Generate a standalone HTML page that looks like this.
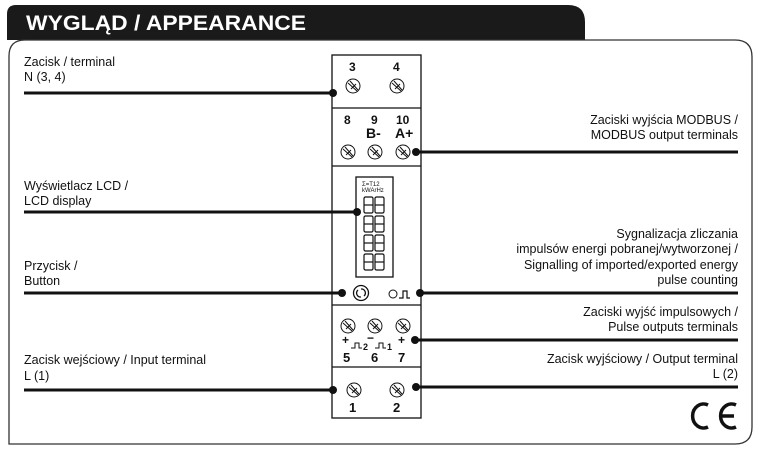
<!DOCTYPE html>
<html><head><meta charset="utf-8"><style>
body{margin:0;background:#fff}
svg{display:block}
text{font-family:"Liberation Sans",sans-serif;fill:#111}
.t{font-size:12.5px}
.b{font-weight:bold;font-size:12px}
</style></head><body>
<svg width="762" height="454" viewBox="0 0 762 454">
<path d="M7 40 V14 Q7 5 16 5 H568 Q585 5 585 22 V40 Z" fill="#1a1a1a"/>
<text x="26" y="30" style="font-size:21px;font-weight:bold;fill:#fff" textLength="280" lengthAdjust="spacingAndGlyphs">WYGLĄD / APPEARANCE</text>
<path d="M9 444 V56 Q9 40 25 40 H735 Q752 40 752 57 V427 Q752 444 735 444 Z" fill="#fff" stroke="#333" stroke-width="1.3"/>
<!-- device -->
<g fill="none" stroke="#111" stroke-width="1.3">
<rect x="332" y="55" width="89" height="363"/>
<line x1="332" y1="108" x2="421" y2="108"/>
<line x1="332" y1="166" x2="421" y2="166"/>
<line x1="332" y1="305" x2="421" y2="305"/>
<line x1="332" y1="367" x2="421" y2="367"/>
<rect x="356" y="177" width="37" height="100"/>
</g>
<g fill="none" stroke="#111" stroke-width="1">
<g transform="translate(353,86)"><circle r="7"/><path d="M-5 -3 L4 5 M-3 -5 L5 4 M-2 3 L3 -2"/></g>
<g transform="translate(397,86)"><circle r="7"/><path d="M-5 -3 L4 5 M-3 -5 L5 4 M-2 3 L3 -2"/></g>
<g transform="translate(348,152)"><circle r="7"/><path d="M-5 -3 L4 5 M-3 -5 L5 4 M-2 3 L3 -2"/></g>
<g transform="translate(375,152)"><circle r="7"/><path d="M-5 -3 L4 5 M-3 -5 L5 4 M-2 3 L3 -2"/></g>
<g transform="translate(403,152)"><circle r="7"/><path d="M-5 -3 L4 5 M-3 -5 L5 4 M-2 3 L3 -2"/></g>
<g transform="translate(348,326)"><circle r="7"/><path d="M-5 -3 L4 5 M-3 -5 L5 4 M-2 3 L3 -2"/></g>
<g transform="translate(375,326)"><circle r="7"/><path d="M-5 -3 L4 5 M-3 -5 L5 4 M-2 3 L3 -2"/></g>
<g transform="translate(403,326)"><circle r="7"/><path d="M-5 -3 L4 5 M-3 -5 L5 4 M-2 3 L3 -2"/></g>
<g transform="translate(354,390)"><circle r="7"/><path d="M-5 -3 L4 5 M-3 -5 L5 4 M-2 3 L3 -2"/></g>
<g transform="translate(397,390)"><circle r="7"/><path d="M-5 -3 L4 5 M-3 -5 L5 4 M-2 3 L3 -2"/></g>
<circle cx="361" cy="293" r="7.5" stroke-width="1.3"/>
<path d="M358 290 A4 4 0 0 0 361 297 M364 296 A4 4 0 0 0 361 289" stroke-width="1.3"/>
<circle cx="393" cy="294" r="4"/>
<path d="M399 298 H403 V291 H407 V298 H410" stroke-width="1.2"/>
<path d="M351 348 H355 V343 H359 V348 H362 M375 348 H379 V343 H383 V348 H386" stroke-width="1"/>
</g>
<!-- LCD -->
<text x="362" y="186" style="font-size:6px">Σ=T12</text>
<text x="362" y="192" style="font-size:6px">kWArHz</text>
<g fill="none" stroke="#111" stroke-width="1.2">
<g id="d"><rect x="364" y="197" width="9" height="16" rx="1.5"/><line x1="364" y1="205" x2="373" y2="205"/><rect x="375" y="197" width="9" height="16" rx="1.5"/><line x1="375" y1="205" x2="384" y2="205"/></g>
<use href="#d" y="19"/><use href="#d" y="38"/><use href="#d" y="57"/>
</g>
<!-- labels in device -->
<g class="b">
<text x="349" y="71" class="b">3</text><text x="393" y="71" class="b">4</text>
<text x="344" y="124" class="b">8</text><text x="371" y="124" class="b">9</text><text x="396" y="124" class="b">10</text>
<text x="366" y="138" style="font-weight:bold;font-size:14px">B-</text><text x="395" y="138" style="font-weight:bold;font-size:14px">A+</text>
<text x="342" y="344" class="b">+</text><text x="363" y="350" style="font-size:9px;font-weight:bold">2</text>
<text x="367" y="342" class="b">−</text><text x="387" y="350" style="font-size:9px;font-weight:bold">1</text>
<text x="398" y="344" class="b">+</text>
<text x="343" y="362" style="font-weight:bold;font-size:13px">5</text><text x="371" y="362" style="font-weight:bold;font-size:13px">6</text><text x="398" y="362" style="font-weight:bold;font-size:13px">7</text>
<text x="349" y="412" style="font-weight:bold;font-size:13px">1</text><text x="393" y="412" style="font-weight:bold;font-size:13px">2</text>
</g>
<!-- lines -->
<g stroke="#111" stroke-width="3">
<line x1="24" y1="93" x2="333" y2="93"/>
<line x1="416" y1="152" x2="738" y2="152"/>
<line x1="24" y1="212" x2="357" y2="212"/>
<line x1="24" y1="293" x2="342" y2="293"/>
<line x1="420" y1="293" x2="738" y2="293"/>
<line x1="415" y1="340" x2="738" y2="340"/>
<line x1="24" y1="390" x2="333" y2="390"/>
<line x1="416" y1="387" x2="738" y2="387"/>
</g>
<g fill="#111">
<circle cx="333" cy="93" r="4"/><circle cx="416" cy="152" r="4"/><circle cx="357" cy="212" r="4"/>
<circle cx="342" cy="293" r="4"/><circle cx="420" cy="293" r="4"/><circle cx="415" cy="340" r="4"/>
<circle cx="333" cy="390" r="4"/><circle cx="416" cy="387" r="4"/>
</g>
<!-- left text -->
<g class="t">
<text x="24" y="66">Zacisk / terminal</text><text x="24" y="81">N (3, 4)</text>
<text x="24" y="190">Wyświetlacz LCD /</text><text x="24" y="205">LCD display</text>
<text x="24" y="270">Przycisk /</text><text x="24" y="285">Button</text>
<text x="24" y="364">Zacisk wejściowy / Input terminal</text><text x="24" y="380">L (1)</text>
</g>
<g class="t" text-anchor="end">
<text x="738" y="124">Zaciski wyjścia MODBUS /</text><text x="738" y="139">MODBUS output terminals</text>
<text x="738" y="238">Sygnalizacja zliczania</text><text x="738" y="253">impulsów energi pobranej/wytworzonej /</text>
<text x="738" y="269">Signalling of imported/exported energy</text><text x="738" y="284">pulse counting</text>
<text x="738" y="316">Zaciski wyjść impulsowych /</text><text x="738" y="331">Pulse outputs terminals</text>
<text x="738" y="363">Zacisk wyjściowy / Output terminal</text><text x="738" y="378">L (2)</text>
</g>
<!-- CE -->
<g fill="none" stroke="#111" stroke-width="3.5">
<path d="M708 405 A11 12 0 1 0 708 427"/>
<path d="M736 405 A11 12 0 1 0 736 427"/>
<path d="M721 416 H734"/>
</g>
</svg>
</body></html>
